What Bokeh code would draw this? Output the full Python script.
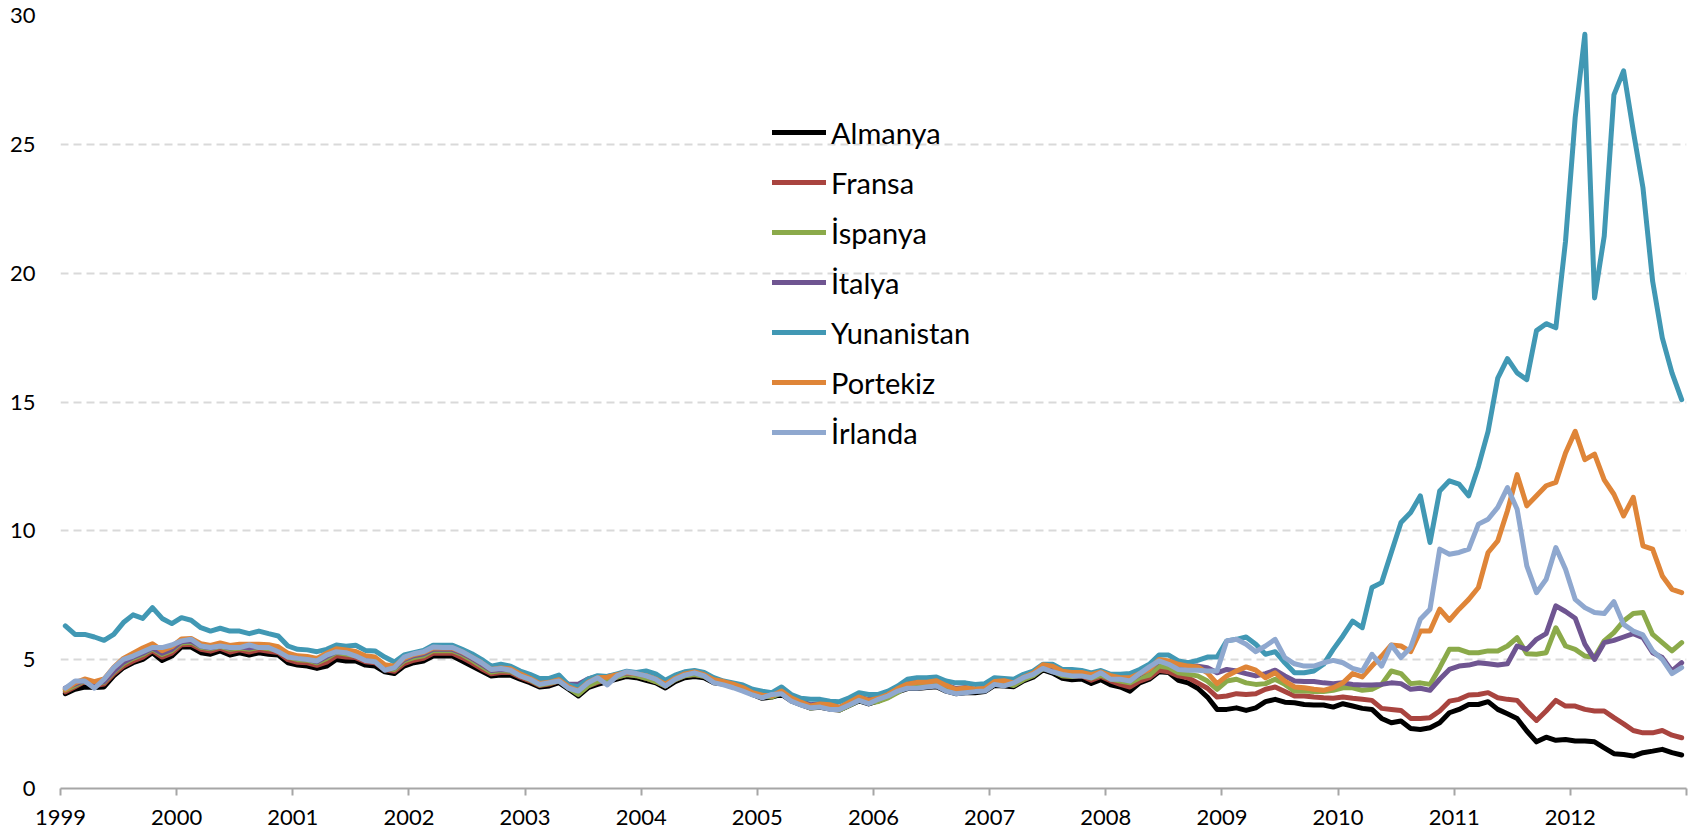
from bokeh.plotting import figure
from bokeh.models import Range1d, FixedTicker, Legend, LegendItem
from bokeh.embed import file_html
from bokeh.resources import INLINE

# Monthly 10-year government bond yields, Jan 1999 - Dec 2012 (%)
start_year = 1999
years = list(range(1999, 2014))
year_labels = [str(y) for y in range(1999, 2013)]

almanya = [
    3.68, 3.85, 3.94, 3.92, 3.94, 4.37, 4.69, 4.88, 5.01, 5.27, 4.97, 5.14,
    5.49, 5.49, 5.27, 5.21, 5.34, 5.18, 5.27, 5.18, 5.27, 5.21, 5.18, 4.88,
    4.79, 4.75, 4.66, 4.75, 5.01, 4.95, 4.95, 4.79, 4.75, 4.53, 4.46, 4.75,
    4.88, 4.95, 5.14, 5.14, 5.14, 4.95, 4.75, 4.56, 4.37, 4.40, 4.40, 4.24,
    4.11, 3.94, 3.98, 4.11, 3.85, 3.59, 3.91, 4.04, 4.15, 4.25, 4.35, 4.30,
    4.20, 4.10, 3.90, 4.15, 4.30, 4.35, 4.30, 4.10, 4.05, 3.95, 3.85, 3.65,
    3.50, 3.55, 3.65, 3.40, 3.25, 3.12, 3.15, 3.08, 3.05, 3.22, 3.40, 3.28,
    3.40, 3.55, 3.75, 3.88, 3.88, 3.92, 3.95, 3.78, 3.68, 3.72, 3.72, 3.76,
    4.00, 3.98, 3.95, 4.18, 4.32, 4.60, 4.48, 4.28, 4.22, 4.25, 4.08, 4.22,
    4.02, 3.94, 3.78, 4.10, 4.24, 4.53, 4.50, 4.20, 4.10, 3.89, 3.55, 3.07,
    3.07, 3.13, 3.03, 3.13, 3.37, 3.46, 3.35, 3.33, 3.26, 3.24, 3.24, 3.16,
    3.29, 3.20, 3.11, 3.07, 2.72, 2.55, 2.62, 2.33, 2.29, 2.36, 2.55, 2.94,
    3.07, 3.26, 3.26, 3.37, 3.07, 2.90, 2.72, 2.23, 1.81, 1.99, 1.87, 1.90,
    1.84, 1.84, 1.81, 1.58, 1.35, 1.32, 1.26, 1.39, 1.45, 1.52, 1.39, 1.30,
]

fransa = [
    3.75, 3.95, 4.15, 4.00, 4.05, 4.45, 4.75, 4.95, 5.10, 5.35, 5.10, 5.25,
    5.58, 5.60, 5.40, 5.33, 5.45, 5.30, 5.38, 5.30, 5.38, 5.33, 5.28, 5.00,
    4.90, 4.88, 4.78, 4.90, 5.15, 5.10, 5.08, 4.92, 4.88, 4.62, 4.55, 4.85,
    4.98, 5.05, 5.25, 5.25, 5.25, 5.08, 4.88, 4.65, 4.45, 4.50, 4.50, 4.32,
    4.18, 4.00, 4.05, 4.18, 3.92, 3.68, 3.98, 4.12, 4.22, 4.32, 4.42, 4.38,
    4.28, 4.15, 3.98, 4.22, 4.38, 4.42, 4.35, 4.15, 4.10, 4.00, 3.90, 3.70,
    3.62, 3.60, 3.75, 3.50, 3.35, 3.20, 3.25, 3.20, 3.10, 3.25, 3.45, 3.35,
    3.40, 3.55, 3.75, 4.00, 4.05, 4.05, 4.10, 3.95, 3.80, 3.82, 3.80, 3.82,
    4.08, 4.10, 4.02, 4.25, 4.40, 4.68, 4.58, 4.38, 4.35, 4.38, 4.20, 4.35,
    4.18, 4.04, 3.94, 4.17, 4.30, 4.59, 4.53, 4.37, 4.30, 4.10, 3.89, 3.55,
    3.59, 3.68, 3.65, 3.68, 3.85, 3.94, 3.76, 3.59, 3.59, 3.55, 3.52, 3.50,
    3.55, 3.50, 3.46, 3.42, 3.11, 3.07, 3.03, 2.72, 2.72, 2.75, 3.01, 3.39,
    3.46, 3.63, 3.65, 3.72, 3.52, 3.46, 3.42, 3.01, 2.64, 3.01, 3.42, 3.20,
    3.20, 3.07, 3.01, 3.01, 2.75, 2.51, 2.25, 2.16, 2.16, 2.25, 2.07, 1.97,
]

ispanya = [
    3.82, 4.00, 4.18, 4.05, 4.12, 4.52, 4.85, 5.05, 5.20, 5.42, 5.20, 5.35,
    5.65, 5.68, 5.48, 5.42, 5.52, 5.40, 5.45, 5.40, 5.48, 5.42, 5.38, 5.10,
    5.00, 4.98, 4.88, 5.05, 5.28, 5.22, 5.15, 5.00, 4.95, 4.68, 4.62, 4.95,
    5.08, 5.15, 5.35, 5.35, 5.35, 5.20, 4.98, 4.75, 4.52, 4.58, 4.55, 4.38,
    4.22, 4.02, 4.08, 4.18, 3.90, 3.65, 3.98, 4.15, 4.22, 4.32, 4.42, 4.38,
    4.28, 4.15, 3.98, 4.22, 4.38, 4.42, 4.35, 4.15, 4.08, 3.98, 3.85, 3.65,
    3.58, 3.55, 3.72, 3.45, 3.30, 3.12, 3.18, 3.12, 3.05, 3.22, 3.42, 3.32,
    3.38, 3.52, 3.72, 3.98, 4.02, 4.02, 4.08, 3.92, 3.75, 3.80, 3.78, 3.80,
    4.05, 4.08, 4.00, 4.22, 4.38, 4.66, 4.55, 4.38, 4.35, 4.40, 4.28, 4.40,
    4.25, 4.17, 4.10, 4.30, 4.40, 4.75, 4.69, 4.49, 4.43, 4.37, 4.17, 3.85,
    4.17, 4.24, 4.10, 4.04, 4.07, 4.24, 4.04, 3.78, 3.78, 3.76, 3.76, 3.81,
    3.91, 3.91, 3.81, 3.85, 4.04, 4.56, 4.46, 4.07, 4.10, 4.04, 4.69, 5.40,
    5.40, 5.27, 5.27, 5.34, 5.34, 5.53, 5.85, 5.23, 5.21, 5.27, 6.24, 5.53,
    5.40, 5.14, 5.08, 5.73, 6.05, 6.50, 6.79, 6.83, 5.98, 5.66, 5.34, 5.66,
]

italya = [
    3.90, 4.05, 4.20, 4.05, 4.15, 4.55, 4.90, 5.10, 5.25, 5.45, 5.25, 5.40,
    5.70, 5.72, 5.52, 5.45, 5.55, 5.45, 5.50, 5.45, 5.52, 5.48, 5.42, 5.15,
    5.05, 5.02, 4.92, 5.12, 5.32, 5.28, 5.20, 5.05, 5.00, 4.72, 4.68, 5.00,
    5.15, 5.22, 5.40, 5.40, 5.40, 5.25, 5.05, 4.82, 4.58, 4.62, 4.60, 4.45,
    4.30, 4.10, 4.15, 4.25, 4.05, 4.05, 4.25, 4.35, 4.35, 4.42, 4.48, 4.45,
    4.38, 4.25, 4.05, 4.28, 4.45, 4.50, 4.42, 4.22, 4.15, 4.05, 3.92, 3.72,
    3.65, 3.62, 3.80, 3.55, 3.40, 3.25, 3.30, 3.25, 3.15, 3.35, 3.55, 3.45,
    3.50, 3.65, 3.88, 4.10, 4.15, 4.15, 4.20, 4.02, 3.88, 3.92, 3.85, 3.88,
    4.15, 4.18, 4.10, 4.32, 4.48, 4.78, 4.68, 4.52, 4.50, 4.52, 4.45, 4.55,
    4.40, 4.24, 4.20, 4.43, 4.62, 4.95, 4.88, 4.69, 4.75, 4.75, 4.69, 4.49,
    4.62, 4.56, 4.46, 4.37, 4.46, 4.59, 4.37, 4.17, 4.15, 4.15, 4.10, 4.07,
    4.10, 4.04, 4.02, 4.02, 4.04, 4.10, 4.07, 3.85, 3.89, 3.81, 4.24, 4.62,
    4.75, 4.79, 4.88, 4.84, 4.79, 4.84, 5.53, 5.40, 5.79, 6.01, 7.09, 6.87,
    6.61, 5.60, 5.01, 5.66, 5.75, 5.88, 6.01, 5.85, 5.27, 5.08, 4.56, 4.88,
]

yunanistan = [
    6.31, 5.98, 5.98, 5.88, 5.75, 5.98, 6.44, 6.74, 6.60, 7.02, 6.60, 6.40,
    6.63, 6.53, 6.24, 6.11, 6.22, 6.11, 6.11, 6.01, 6.11, 6.01, 5.92, 5.53,
    5.40, 5.38, 5.31, 5.40, 5.57, 5.52, 5.56, 5.36, 5.34, 5.10, 4.91, 5.18,
    5.27, 5.36, 5.56, 5.56, 5.56, 5.40, 5.23, 5.01, 4.75, 4.82, 4.75, 4.56,
    4.43, 4.27, 4.27, 4.40, 4.02, 3.95, 4.25, 4.38, 4.35, 4.45, 4.55, 4.50,
    4.56, 4.45, 4.20, 4.40, 4.53, 4.58, 4.50, 4.30, 4.17, 4.10, 4.02, 3.85,
    3.78, 3.72, 3.94, 3.65, 3.50, 3.46, 3.46, 3.39, 3.37, 3.52, 3.72, 3.65,
    3.65, 3.78, 3.98, 4.24, 4.30, 4.30, 4.33, 4.17, 4.10, 4.10, 4.04, 4.07,
    4.30, 4.27, 4.24, 4.43, 4.56, 4.82, 4.82, 4.62, 4.62, 4.58, 4.49, 4.58,
    4.43, 4.43, 4.46, 4.62, 4.82, 5.18, 5.18, 4.95, 4.88, 4.97, 5.10, 5.10,
    5.73, 5.79, 5.88, 5.60, 5.21, 5.31, 4.88, 4.49, 4.49, 4.56, 4.82, 5.40,
    5.92, 6.50, 6.24, 7.80, 7.99, 9.16, 10.32, 10.71, 11.36, 9.55, 11.55, 11.94,
    11.81, 11.36, 12.50, 13.86, 15.93, 16.68, 16.13, 15.87, 17.77, 18.04, 17.88, 21.24,
    26.04, 29.27, 19.04, 21.44, 26.92, 27.85, 25.52, 23.32, 19.69, 17.49, 16.13, 15.09,
]

portekiz = [
    3.85, 4.10, 4.25, 4.15, 4.25, 4.70, 5.05, 5.25, 5.45, 5.62, 5.35, 5.50,
    5.80, 5.82, 5.62, 5.55, 5.65, 5.55, 5.60, 5.60, 5.60, 5.58, 5.50, 5.25,
    5.15, 5.12, 5.05, 5.25, 5.42, 5.38, 5.32, 5.15, 5.10, 4.80, 4.75, 5.05,
    5.20, 5.28, 5.45, 5.45, 5.45, 5.30, 5.10, 4.88, 4.62, 4.68, 4.65, 4.45,
    4.28, 4.08, 4.12, 4.22, 3.95, 3.80, 4.12, 4.30, 4.32, 4.42, 4.50, 4.45,
    4.38, 4.25, 4.05, 4.28, 4.45, 4.52, 4.42, 4.22, 4.15, 4.05, 3.92, 3.72,
    3.62, 3.60, 3.78, 3.52, 3.35, 3.20, 3.28, 3.25, 3.15, 3.35, 3.55, 3.42,
    3.50, 3.65, 3.88, 4.05, 4.12, 4.12, 4.18, 4.00, 3.85, 3.90, 3.85, 3.88,
    4.15, 4.18, 4.10, 4.32, 4.48, 4.80, 4.75, 4.55, 4.50, 4.50, 4.42, 4.52,
    4.38, 4.30, 4.30, 4.46, 4.62, 5.01, 4.95, 4.82, 4.75, 4.72, 4.49, 4.07,
    4.37, 4.56, 4.72, 4.59, 4.30, 4.49, 4.17, 3.94, 3.91, 3.85, 3.81, 3.91,
    4.10, 4.46, 4.33, 4.75, 5.14, 5.57, 5.53, 5.31, 6.11, 6.11, 6.96, 6.53,
    6.96, 7.34, 7.80, 9.16, 9.61, 10.78, 12.18, 10.97, 11.36, 11.75, 11.88, 13.02,
    13.86, 12.76, 12.98, 11.98, 11.42, 10.58, 11.30, 9.42, 9.29, 8.25, 7.73, 7.60,
]

irlanda = [
    3.89, 4.17, 4.17, 3.89, 4.24, 4.69, 5.01, 5.14, 5.31, 5.47, 5.47, 5.57,
    5.73, 5.79, 5.53, 5.47, 5.53, 5.47, 5.47, 5.57, 5.47, 5.47, 5.31, 5.10,
    5.05, 5.01, 4.95, 5.18, 5.31, 5.27, 5.14, 4.97, 4.92, 4.59, 4.69, 5.10,
    5.23, 5.31, 5.49, 5.47, 5.47, 5.31, 5.10, 4.88, 4.62, 4.66, 4.59, 4.37,
    4.24, 4.04, 4.11, 4.17, 3.89, 3.78, 4.10, 4.30, 4.02, 4.37, 4.53, 4.46,
    4.37, 4.24, 3.98, 4.24, 4.40, 4.49, 4.37, 4.11, 4.02, 3.91, 3.78, 3.63,
    3.52, 3.65, 3.68, 3.39, 3.24, 3.13, 3.16, 3.07, 3.07, 3.24, 3.42, 3.29,
    3.46, 3.59, 3.78, 3.89, 3.89, 3.94, 3.98, 3.78, 3.68, 3.72, 3.76, 3.78,
    4.04, 3.98, 4.10, 4.30, 4.43, 4.66, 4.53, 4.43, 4.37, 4.37, 4.30, 4.49,
    4.24, 4.24, 4.17, 4.46, 4.72, 4.95, 4.82, 4.62, 4.59, 4.59, 4.56, 4.56,
    5.73, 5.79, 5.60, 5.31, 5.53, 5.79, 5.08, 4.84, 4.75, 4.75, 4.88, 4.97,
    4.88, 4.66, 4.56, 5.21, 4.75, 5.57, 5.08, 5.47, 6.57, 6.96, 9.29, 9.09,
    9.16, 9.29, 10.26, 10.45, 10.91, 11.68, 10.84, 8.64, 7.60, 8.12, 9.35, 8.51,
    7.34, 7.02, 6.83, 6.79, 7.25, 6.37, 6.11, 5.96, 5.34, 5.01, 4.46, 4.69,
]

names = ["Almanya", "Fransa", "İspanya", "İtalya", "Yunanistan", "Portekiz", "İrlanda"]
series = [almanya, fransa, ispanya, italya, yunanistan, portekiz, irlanda]
colors = ["#000000", "#A9443F", "#8BAA4A", "#6F5591", "#4198B4", "#DF8538", "#8FA8CF"]

FONT = "Lato"

p = figure(width=1698, height=839,
           x_range=Range1d(1999, 2013), y_range=Range1d(0, 30),
           output_backend="svg", toolbar_location=None,
           min_border_left=60, min_border_right=12,
           min_border_top=15, min_border_bottom=51)
p.outline_line_color = None
p.background_fill_color = "white"
p.border_fill_color = "white"

renderers = []
for vals, col in zip(series, colors):
    xs = [start_year + (i + 0.5) / 12.0 for i in range(len(vals))]
    r = p.line(xs, vals, line_color=col, line_width=5,
               line_join="round", line_cap="round")
    renderers.append(r)

# grid
p.xgrid.visible = False
p.ygrid.ticker = FixedTicker(ticks=[5, 10, 15, 20, 25, 30])
p.ygrid.grid_line_color = "#D9D9D9"
p.ygrid.grid_line_width = 2
p.ygrid.grid_line_dash = "8 5"

# y axis
p.yaxis.ticker = FixedTicker(ticks=[0, 5, 10, 15, 20, 25, 30])
p.yaxis.axis_line_color = None
p.yaxis.major_tick_line_color = None
p.yaxis.minor_tick_line_color = None
p.yaxis.major_tick_in = 0
p.yaxis.major_tick_out = 0
p.yaxis.major_label_standoff = 25
p.yaxis.major_label_text_font = FONT
p.yaxis.major_label_text_font_size = "22px"
p.yaxis.major_label_text_color = "#000000"

# x axis
p.xaxis.ticker = FixedTicker(ticks=years)
p.xaxis.major_label_overrides = {y: (str(y) if str(y) in year_labels else "") for y in years}
p.xaxis.axis_line_color = "#A6A6A6"
p.xaxis.axis_line_width = 2
p.xaxis.major_tick_line_color = "#A6A6A6"
p.xaxis.major_tick_line_width = 2
p.xaxis.major_tick_in = 0
p.xaxis.major_tick_out = 7
p.xaxis.minor_tick_line_color = None
p.xaxis.major_label_standoff = 14
p.xaxis.major_label_text_font = FONT
p.xaxis.major_label_text_font_size = "22px"
p.xaxis.major_label_text_color = "#000000"

legend = Legend(
    items=[LegendItem(label=n, renderers=[r]) for n, r in zip(names, renderers)],
    location=(712, 338), orientation="vertical",
    glyph_width=54, glyph_height=36, label_height=36, spacing=14,
    label_standoff=5, padding=0, margin=0,
    border_line_alpha=0, background_fill_alpha=0,
    label_text_font=FONT, label_text_font_size="29px", label_text_color="#000000",
)
p.add_layout(legend)

open("out.html", "w").write(file_html(p, INLINE))
